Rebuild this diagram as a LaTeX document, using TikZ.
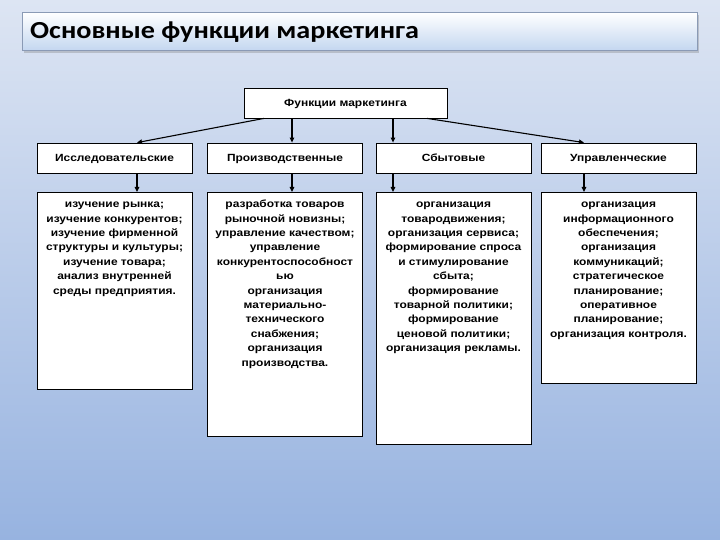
\documentclass[tikz,border=0pt]{standalone}
\usepackage{fontspec}
\setmainfont{Liberation Sans}[FakeStretch=1.15]
\newfontfamily\titlefont{Carlito}[FakeStretch=1.15]
\usetikzlibrary{arrows.meta,calc,shadows}
\definecolor{bgtop}{HTML}{DDE5F3}
\definecolor{bgbot}{HTML}{97B3E0}
\definecolor{titlebot}{HTML}{C4D7F0}
\definecolor{titleedge}{HTML}{8A9AB5}
\newcommand{\fstrut}{\rule{0pt}{10pt}}

\begin{document}
\begin{tikzpicture}[
  x=1pt, y=-1pt,
  font=\fontsize{10.4}{14.4}\selectfont\bfseries,
  box/.style={draw, fill=white, line width=0.8pt, minimum width=155pt, inner sep=0pt,
              text height=9pt, text depth=1.5pt},
  kind/.style={box, minimum height=30pt},
  lst/.style={box, anchor=north},
  txt/.style={anchor=north, align=center, inner sep=0pt},
  ar/.style={-{Triangle[length=5pt,width=4.5pt]}, line width=1.1pt},
]
% ---------- background ----------
\fill[top color=bgtop, bottom color=bgbot] (0,0) rectangle (720,540);
\useasboundingbox (0,0) rectangle (720,540);

% ---------- title ----------
\node[draw=titleedge, line width=0.6pt, top color=white, bottom color=titlebot,
      drop shadow={opacity=0.35, shadow xshift=2pt, shadow yshift=-3pt},
      minimum width=675pt, minimum height=38pt, anchor=north west] (bar) at (22,12) {};
\node[anchor=west, inner sep=0pt, font=\titlefont\fontsize{24.5}{28}\selectfont\bfseries]
     (ttl) at (30,32) {Основные функции маркетинга};

% ---------- root and kinds ----------
\node[box, minimum width=203pt, minimum height=30pt] (fm) at (345.5,103) {Функции маркетинга};
\node[kind] (k1) at (114.5,158) {Исследовательские};
\node[kind] (k2) at (285,158)   {Производственные};
\node[kind] (k3) at (453.5,158) {Сбытовые};
\node[kind] (k4) at (618.5,158) {Управленческие};

% ---------- lists ----------
\node[lst, minimum height=197pt] (d1) at (114.5,192) {};
\node[lst, minimum height=244pt] (d2) at (285,192)   {};
\node[lst, minimum height=252pt] (d3) at (453.5,192) {};
\node[lst, minimum height=191pt] (d4) at (618.5,192) {};
\node[txt] (t1) at (114.5,197.5) {\fstrut изучение рынка;\\ изучение конкурентов;\\ изучение фирменной\\
  структуры и культуры;\\ изучение товара;\\ анализ внутренней\\ среды предприятия.};
\node[txt] (t2) at (285,197.5) {\fstrut разработка товаров\\ рыночной новизны;\\ управление качеством;\\
  управление\\ конкурентоспособност\\ ью\\ организация\\ материально-\\ технического\\
  снабжения;\\ организация\\ производства.};
\node[txt] (t3) at (453.5,197.5) {\fstrut организация\\ товародвижения;\\ организация сервиса;\\
  формирование спроса\\ и стимулирование\\ сбыта;\\ формирование\\ товарной политики;\\
  формирование\\ ценовой политики;\\ организация рекламы.};
\node[txt] (t4) at (618.5,197.5) {\fstrut организация\\ информационного\\ обеспечения;\\ организация\\
  коммуникаций;\\ стратегическое\\ планирование;\\ оперативное\\ планирование;\\
  организация контроля.};

% ---------- arrows ----------
\coordinate (c1) at (137,0);
\coordinate (c2) at (292,0);
\coordinate (c3) at (393,0);
\coordinate (c4) at (584,0);
\draw[ar] ($(fm.south west)!0.1!(fm.south east)$) -- (c1 |- k1.north);
\draw[ar] (c2 |- fm.south) -- (c2 |- k2.north);
\draw[ar] (c3 |- fm.south) -- (c3 |- k3.north);
\draw[ar] ($(fm.south west)!0.9!(fm.south east)$) -- (c4 |- k4.north);
\foreach \i in {1,...,4}
  \draw[ar] (c\i |- k\i.south) -- (c\i |- d\i.north);
\end{tikzpicture}
\end{document}
